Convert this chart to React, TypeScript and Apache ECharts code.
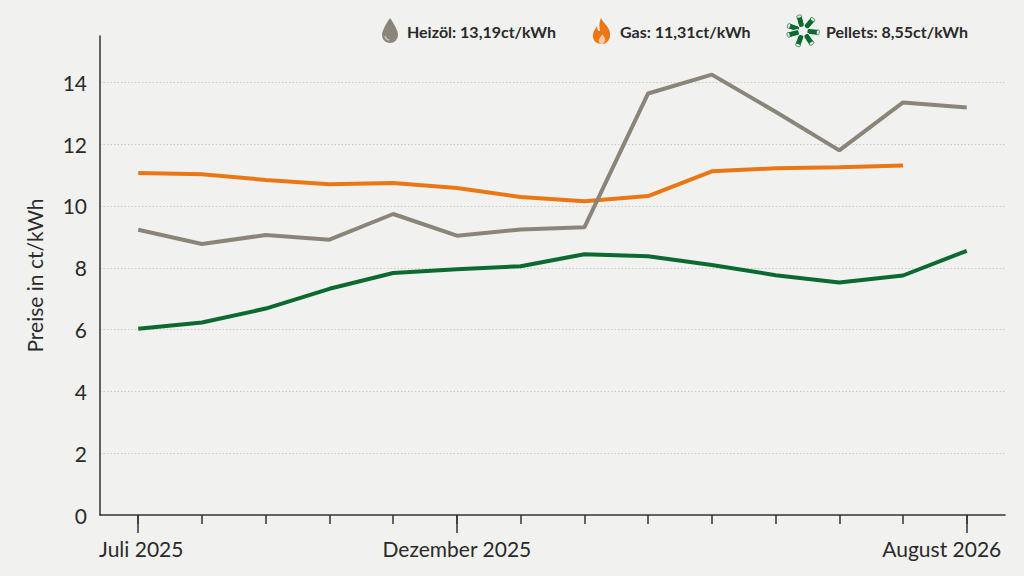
import React, { useEffect, useRef } from "react";
import * as echarts from "echarts";

const months = [
  "Juli 2025", "August 2025", "September 2025", "Oktober 2025", "November 2025",
  "Dezember 2025", "Januar 2026", "Februar 2026", "März 2026", "April 2026",
  "Mai 2026", "Juni 2026", "Juli 2026", "August 2026",
];
const labeledMonths = [0, 5, 13];
const heizoel = [9.23, 8.77, 9.06, 8.91, 9.74, 9.04, 9.24, 9.31, 13.64, 14.25, 13.05, 11.8, 13.35, 13.19];
const gas = [11.07, 11.03, 10.84, 10.7, 10.74, 10.58, 10.29, 10.15, 10.32, 11.12, 11.22, 11.25, 11.31];
const pellets = [6.03, 6.23, 6.68, 7.32, 7.83, 7.95, 8.05, 8.44, 8.37, 8.09, 7.76, 7.52, 7.75, 8.55];
const yTicks = [0, 2, 4, 6, 8, 10, 12, 14];

const C_GRAY = "#8b8579";
const C_ORANGE = "#ea7714";
const C_GREEN = "#0c6a31";
const BG = "#f1f2ef";
const TXT = "#2a2a2a";
const FONT = "'Source Sans Pro', Lato, 'Noto Sans', sans-serif";
const FS = 21;

const fmt = (v: number) => v.toFixed(2).replace(".", ",");

let registered = false;
function registerShapes() {
  if (registered) return;
  registered = true;
  echarts.graphic.registerShape(
    "dropIcon",
    echarts.graphic.extendPath("M8 0 C8 0 0 11 0 17 A8 8 0 0 0 16 17 C16 11 8 0 8 0 Z", {})
  );
  echarts.graphic.registerShape(
    "flameIcon",
    echarts.graphic.extendPath(
      "M9 0 C11 5 17 8 18 15 C19 21 15 26 10 26 C4 26 0 22 1 16 C2 12 4 10 5 8 C5 11 6 13 8 13 C7 9 7 4 9 0 Z",
      {}
    )
  );
  echarts.graphic.registerShape(
    "flameInner",
    echarts.graphic.extendPath(
      "M10 26 C7 26 6 23 7 21 C8 19 10 18 10 16 C12 18 14 21 13 23 C12 25 11 26 10 26 Z",
      {}
    )
  );
}

function pellet(angleDeg: number, dist: number) {
  const a = (angleDeg * Math.PI) / 180;
  const cx = 17 + Math.cos(a) * dist;
  const cy = 16 + Math.sin(a) * dist;
  return {
    type: "group",
    x: cx,
    y: cy,
    rotation: -a,
    children: [
      {
        type: "rect",
        shape: { x: -6, y: -3, width: 12, height: 6, r: 2 },
        style: { fill: C_GREEN, stroke: BG, lineWidth: 1 },
      },
      {
        type: "ellipse",
        shape: { cx: 5, cy: 0, rx: 1.5, ry: 2.6 },
        style: { fill: "#d9e6dc", stroke: C_GREEN, lineWidth: 0.6 },
      },
    ],
  };
}

export default function App() {
  const ref = useRef<HTMLDivElement>(null);
  useEffect(() => {
    document.body.style.margin = "0";
    document.body.style.background = BG;
    registerShapes();
    const chart = echarts.init(ref.current!, null, { renderer: "svg" });
    const legendText = (x: number, text: string) => ({
      type: "text",
      x,
      y: 31,
      style: {
        text,
        fill: TXT,
        font: `bold 16px ${FONT}`,
        textVerticalAlign: "middle",
        textAlign: "left",
      },
    });
    const axisColor = "#333333";
    chart.setOption({
      animation: false,
      backgroundColor: BG,
      textStyle: { fontFamily: FONT },
      grid: [
        { left: 100, right: 19, top: 36, bottom: 61 },
        { left: 100, right: 19, top: 36, bottom: 61 },
      ],
      xAxis: [
        {
          type: "value",
          gridIndex: 0,
          min: -0.6,
          max: 13.6,
          axisLine: { show: true, onZero: false, lineStyle: { color: axisColor, width: 1.5 } },
          axisTick: {
            show: true,
            customValues: months.map((_, i) => i),
            length: 9,
            lineStyle: { color: axisColor, width: 1.5 },
          },
          axisLabel: { show: false },
          splitLine: { show: false },
        },
        {
          type: "value",
          gridIndex: 1,
          min: -0.6,
          max: 13.6,
          axisLine: { show: false, onZero: false },
          axisTick: {
            show: true,
            customValues: labeledMonths,
            length: 18,
            lineStyle: { color: axisColor, width: 1.5 },
          },
          axisLabel: {
            show: true,
            customValues: labeledMonths,
            margin: 23,
            fontSize: FS,
            color: TXT,
            fontFamily: FONT,
            formatter: (v: number) => {
              const i = Math.round(v);
              if (i === 0) return `{f|${months[i]}}`;
              if (i === months.length - 1) return `{l|${months[i]}}`;
              return months[i];
            },
            rich: {
              f: { fontSize: FS, color: TXT, fontFamily: FONT, padding: [0, 0, 0, 6] },
              l: { fontSize: FS, color: TXT, fontFamily: FONT, padding: [0, 50, 0, 0] },
            },
          },
          splitLine: { show: false },
        },
      ],
      yAxis: [
        {
          type: "value",
          gridIndex: 0,
          min: 0,
          max: 15.5,
          interval: 2,
          name: "Preise in ct/kWh",
          nameLocation: "middle",
          nameGap: 55,
          nameRotate: 90,
          nameTextStyle: { fontSize: FS, color: TXT, fontFamily: FONT },
          axisLine: { show: true, onZero: false, lineStyle: { color: axisColor, width: 1.5 } },
          axisTick: { show: false },
          axisLabel: {
            customValues: yTicks,
            margin: 13,
            fontSize: FS,
            color: TXT,
            fontFamily: FONT,
          },
          splitLine: {
            show: true,
            showMinLine: false,
            showMaxLine: false,
            lineStyle: { color: "#c9cac6", type: [1.5, 2], width: 1 },
          },
        },
        {
          type: "value",
          gridIndex: 1,
          min: 0,
          max: 15.5,
          show: false,
        },
      ],
      series: [
        {
          name: "Gas",
          type: "line",
          xAxisIndex: 0,
          yAxisIndex: 0,
          data: gas.map((v, i) => [i, v]),
          symbol: "none",
          lineStyle: { color: C_ORANGE, width: 4 },
          itemStyle: { color: C_ORANGE },
        },
        {
          name: "Pellets",
          type: "line",
          xAxisIndex: 0,
          yAxisIndex: 0,
          data: pellets.map((v, i) => [i, v]),
          symbol: "none",
          lineStyle: { color: C_GREEN, width: 4 },
          itemStyle: { color: C_GREEN },
        },
        {
          name: "Heizöl",
          type: "line",
          xAxisIndex: 0,
          yAxisIndex: 0,
          data: heizoel.map((v, i) => [i, v]),
          symbol: "none",
          lineStyle: { color: C_GRAY, width: 4 },
          itemStyle: { color: C_GRAY },
        },
      ],
      graphic: [
        {
          type: "group",
          x: 382,
          y: 18,
          children: [
            { type: "dropIcon", x: 0, y: 0, style: { fill: C_GRAY } },
            {
              type: "arc",
              shape: { cx: 8, cy: 17, r: 5, startAngle: Math.PI * 0.55, endAngle: Math.PI * 0.95 },
              style: { stroke: "#c9c5bd", lineWidth: 1.5, fill: "none" },
            },
          ],
        },
        legendText(407, `Heizöl: ${fmt(heizoel[heizoel.length - 1])}ct/kWh`),
        {
          type: "group",
          x: 592,
          y: 18,
          children: [
            { type: "flameIcon", x: 0, y: 0, style: { fill: C_ORANGE } },
            { type: "flameInner", x: 0, y: 0, style: { fill: "#f6c9a0" } },
          ],
        },
        legendText(620, `Gas: ${fmt(gas[gas.length - 1])}ct/kWh`),
        {
          type: "group",
          x: 786,
          y: 15,
          children: [
            pellet(-160, 10),
            pellet(-105, 10),
            pellet(-50, 10),
            pellet(5, 10),
            pellet(55, 10),
            pellet(110, 10),
            pellet(165, 10),
          ],
        },
        legendText(826, `Pellets: ${fmt(pellets[pellets.length - 1])}ct/kWh`),
      ],
    });
    return () => chart.dispose();
  }, []);
  return <div ref={ref} style={{ width: 1024, height: 576 }} />;
}
